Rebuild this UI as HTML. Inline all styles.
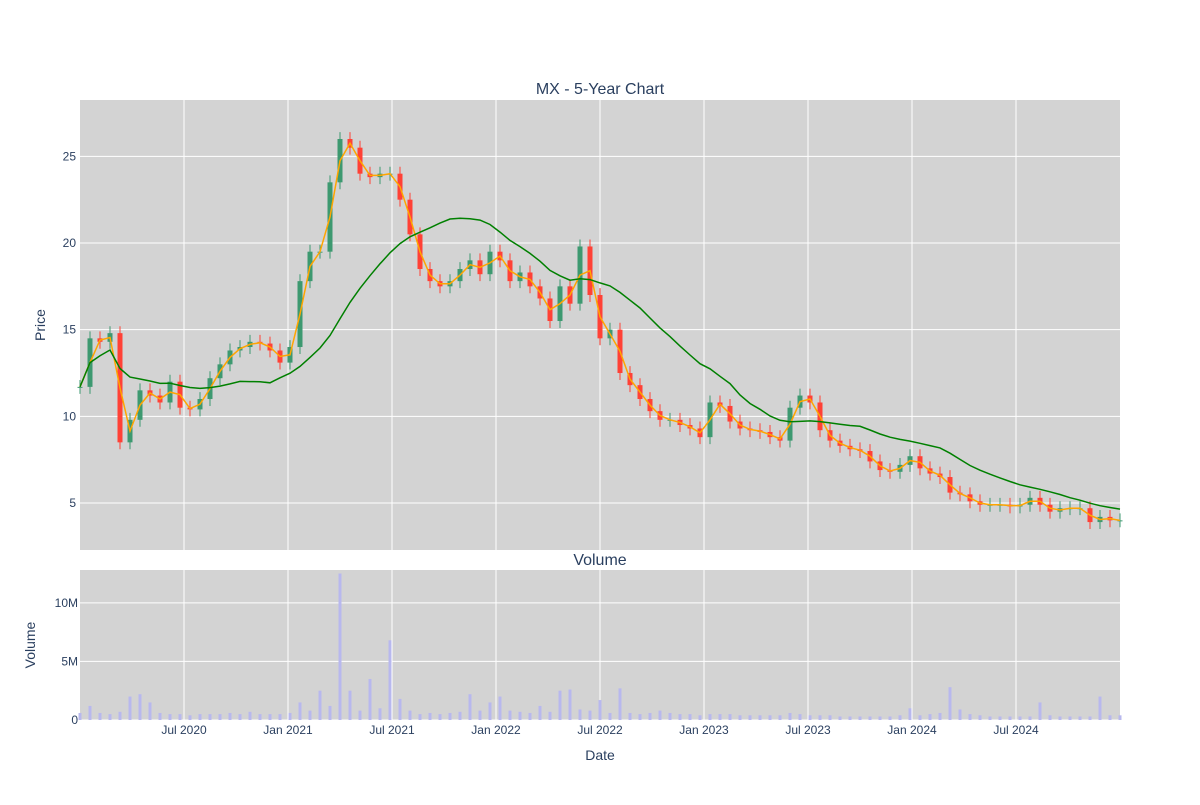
<!DOCTYPE html>
<html><head><meta charset="utf-8">
<style>
body{margin:0;background:#fff;font-family:"Liberation Sans",sans-serif;}
svg text{font-family:"Liberation Sans",sans-serif;fill:#2a3f5f;}
</style></head>
<body>
<svg id="chart" width="1200" height="800">
<rect x="0" y="0" width="1200" height="800" fill="#fff"/>
<rect x="80" y="100" width="1040" height="450" fill="#d3d3d3"/>
<rect x="80" y="570" width="1040" height="150" fill="#d3d3d3"/>
<g id="grid"></g>
<g id="vol"></g>
<g id="candles"></g>
<g id="lines"></g>
<g id="labels"></g>
<text x="600" y="94" text-anchor="middle" font-size="16">MX - 5-Year Chart</text>
<text x="600" y="565" text-anchor="middle" font-size="16">Volume</text>
<text x="45" y="325" text-anchor="middle" font-size="14" transform="rotate(-90 45 325)">Price</text>
<text x="35" y="645" text-anchor="middle" font-size="14" transform="rotate(-90 35 645)">Volume</text>
<text x="600" y="760" text-anchor="middle" font-size="14">Date</text>
</svg>
<script>
const closes=[11.7,14.5,14.3,14.8,8.5,9.8,11.5,11.2,10.8,12,10.5,10.4,11,12.2,13,13.8,14,14.3,14.2,13.8,13.1,14,17.8,19.5,19.5,23.5,26,25.5,24,23.8,24,24,22.5,20.5,18.5,17.8,17.5,17.8,18.5,19,18.2,19.5,19,17.8,18.3,17.5,16.8,15.5,17.5,16.5,19.8,17,14.5,15,12.5,11.8,11,10.3,9.8,9.8,9.5,9.3,8.8,10.8,10.6,9.7,9.3,9.2,9.1,8.8,8.6,10.5,11.2,10.8,9.2,8.6,8.3,8.1,8,7.4,6.9,6.8,7.2,7.7,7,6.7,6.5,5.6,5.5,5.1,4.9,4.9,4.9,4.8,4.9,5.3,4.9,4.5,4.7,4.7,4.7,3.9,4.2,4.0,4.0];
const volumes=[0.6,1.2,0.6,0.5,0.7,2,2.2,1.5,0.6,0.5,0.5,0.4,0.5,0.5,0.5,0.6,0.5,0.7,0.5,0.5,0.5,0.6,1.5,0.8,2.5,1.2,12.5,2.5,0.8,3.5,1,6.8,1.8,0.8,0.5,0.6,0.5,0.6,0.7,2.2,0.8,1.5,2,0.8,0.7,0.6,1.2,0.7,2.5,2.6,0.9,0.8,1.7,0.6,2.7,0.6,0.5,0.6,0.8,0.6,0.5,0.5,0.4,0.5,0.5,0.5,0.4,0.4,0.4,0.4,0.4,0.6,0.5,0.4,0.4,0.4,0.3,0.3,0.3,0.3,0.3,0.3,0.4,1,0.4,0.5,0.6,2.8,0.9,0.5,0.4,0.3,0.3,0.3,0.3,0.3,1.5,0.4,0.3,0.3,0.3,0.3,2,0.4,0.4];
const priceTicks=[5,10,15,20,25];
const volTicks=[0,5,10];
const volTickLabels=["0","5M","10M"];
const dateTickLabels=["Jul 2020","Jan 2021","Jul 2021","Jan 2022","Jul 2022","Jan 2023","Jul 2023","Jan 2024","Jul 2024"];
const dateTickPos=[0.5,1,1.5,2,2.5,3,3.5,4,4.5]; // years since Jan 2020

const NS="http://www.w3.org/2000/svg";
const X0=80,X1=1120,PY0=100,PY1=550,VY0=570,VY1=720;
const pMin=2.29,pMax=28.25,vMax=12.8;
const yP=v=>PY1-(v-pMin)/(pMax-pMin)*(PY1-PY0);
const yV=v=>VY1-v/vMax*(VY1-VY0);
const xI=i=>X0+i*(X1-X0)/(closes.length-1);
const xY=t=>X0+t/5*(X1-X0);
function mk(tag,attrs,parent){const e=document.createElementNS(NS,tag);for(const k in attrs)e.setAttribute(k,attrs[k]);document.getElementById(parent).appendChild(e);return e;}

priceTicks.forEach(v=>{
  const l=mk('line',{x1:X0,x2:X1,y1:yP(v),y2:yP(v),stroke:'#fff','stroke-width':1},'grid');
  
  
  const t=mk('text',{x:X0-4,y:yP(v)+4,'text-anchor':'end','font-size':12},'labels');
  t.textContent=v;
  
  
});
volTicks.forEach((v,i)=>{
  const l=mk('line',{x1:X0,x2:X1,y1:yV(v),y2:yV(v),stroke:'#fff','stroke-width':1},'grid');
  
  
  const t=mk('text',{x:X0-2,y:yV(v)+4,'text-anchor':'end','font-size':12},'labels');
  t.textContent=volTickLabels[i];
  
  
});
dateTickPos.forEach((p,i)=>{
  const x=xY(p);
  const l=mk('line',{x1:x,x2:x,y1:PY0,y2:PY1,stroke:'#fff','stroke-width':1},'grid');
  
  
  const l2=mk('line',{x1:x,x2:x,y1:VY0,y2:VY1,stroke:'#fff','stroke-width':1},'grid');
  
  
  const t=mk('text',{x:x,y:VY1+14,'text-anchor':'middle','font-size':12},'labels');
  t.textContent=dateTickLabels[i];
  
  
});
volumes.forEach((v,i)=>{
  const r=mk('rect',{x:xI(i)-1.5,y:yV(v),width:3,height:Math.max(0.5,VY1-yV(v)),fill:'#b8b8ee'},'vol');
  
  
});
closes.forEach((c,i)=>{
  const o=i?closes[i-1]:c;
  const up=c>=o, col=up?'#3d9970':'#ff4136';
  const hi=Math.max(o,c)+0.4, lo=Math.min(o,c)-0.4, x=xI(i);
  const w=mk('line',{x1:x,x2:x,y1:yP(hi),y2:yP(lo),stroke:col,'stroke-width':1},'candles');
  
  
  const b=mk('rect',{x:x-2.5,y:yP(Math.max(o,c)),width:5,height:Math.max(1,Math.abs(yP(o)-yP(c))),fill:col},'candles');
  
  
});
function ma(n){return closes.map((_,i)=>{const s=closes.slice(Math.max(0,i-n+1),i+1);return s.reduce((a,b)=>a+b,0)/s.length;});}
const maShort=ma(2), maLong=ma(16);
[[maShort,'orange','ma-short-line'],[maLong,'green','ma-long-line']].forEach(([arr,col,nm])=>{
  const p=mk('path',{d:arr.map((v,i)=>(i?'L':'M')+xI(i).toFixed(1)+','+yP(v).toFixed(1)).join(''),fill:'none',stroke:col,'stroke-width':1.5},'lines');
  
  
});
</script>
</body></html>
